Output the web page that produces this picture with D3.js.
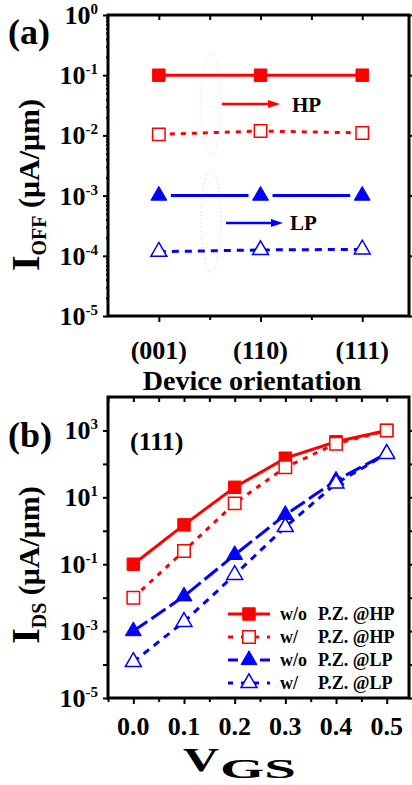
<!DOCTYPE html>
<html>
<head>
<meta charset="utf-8">
<script src="https://cdn.jsdelivr.net/npm/d3@7"></script>
<style>
body { margin: 0; background: #fff; }
text { font-family: "Liberation Serif", "Times New Roman", serif; font-weight: bold; fill: #000; }
</style>
</head>
<body>
<script>
// panel (a): off current vs orientation
var orientations = ['(001)', '(110)', '(111)'];
var ioffHpNoPz = [0.1, 0.1, 0.1];
var ioffHpPz = [0.0104, 0.0118, 0.011];
var ioffLpNoPz = [1e-3, 1e-3, 1e-3];
var ioffLpPz = [1.17e-4, 1.25e-4, 1.28e-4];

// panel (b): Ids vs Vgs for (111)
var vgs = [0.0, 0.1, 0.2, 0.3, 0.4, 0.5];
var idsHpNoPz = [0.1, 1.5, 20, 148, 460, 1000];
var idsHpPz = [0.01, 0.25, 6.6, 79, 400, 1000];
var idsLpNoPz = [1e-3, 0.011, 0.19, 3, 32, 205];
var idsLpPz = [1.2e-4, 0.0019, 0.048, 1.3, 26, 200];

var yTicksA = [1e0, 1e-1, 1e-2, 1e-3, 1e-4, 1e-5];
var yTicksB = [1e3, 1e1, 1e-1, 1e-3, 1e-5];
var vgsTicks = [0.0, 0.1, 0.2, 0.3, 0.4, 0.5];

var legendPrefix = ['w/o', 'w/', 'w/o', 'w/'];
var legendText = ['P.Z. @HP', 'P.Z. @HP', 'P.Z. @LP', 'P.Z. @LP'];

var red = '#ff0000', blue = '#0000ff';

// series styles (same order as legend)
var styles = [
	{color: red, dash: null, shape: 'square', open: false},
	{color: red, dash: '5,6', shape: 'square', open: true},
	{color: blue, dash: '17,5', shape: 'triangle', open: false},
	{color: blue, dash: '7,6', shape: 'triangle', open: true}
];

var svg = d3.select('body').append('svg')
	.attr('width', 412)
	.attr('height', 785);

var xa = d3.scaleLinear().domain([0.5, 3.46]).range([108, 409]);
var ya = d3.scaleLog().domain([1e-5, 1]).range([316, 15]);

var xb = d3.scaleLinear().domain([-0.05, 0.544]).range([108, 409]);
var yb = d3.scaleLog().domain([1e-5, 1e4]).range([698, 397]);

function symbolPath(shape) {
	if (shape == 'square') return d3.symbol().type(d3.symbolSquare).size(155)();
	return d3.symbol().type(d3.symbolTriangle).size(110)();
}

function drawFrame(x, y, xMajor, xMinor, yMajor, yMinor) {
	var g = svg.append('g');
	var x0 = x.range()[0], x1 = x.range()[1],
		y0 = y.range()[0], y1 = y.range()[1];

	function clean(sel) {
		sel.select('.domain').remove();
		sel.selectAll('line').attr('stroke-width', 2);
	}

	// bottom (out) and top (in)
	g.append('g').attr('transform', 'translate(0,' + y0 + ')')
		.call(d3.axisBottom(x).tickValues(xMajor).tickSize(6).tickFormat('')).call(clean);
	g.append('g').attr('transform', 'translate(0,' + y0 + ')')
		.call(d3.axisBottom(x).tickValues(xMinor).tickSize(4).tickFormat('')).call(clean);
	g.append('g').attr('transform', 'translate(0,' + y1 + ')')
		.call(d3.axisTop(x).tickValues(xMajor.concat(xMinor)).tickSize(-5).tickFormat('')).call(clean);

	// left and right (out)
	g.append('g').attr('transform', 'translate(' + x0 + ',0)')
		.call(d3.axisLeft(y).tickValues(yMajor).tickSize(5).tickFormat('')).call(clean);
	g.append('g').attr('transform', 'translate(' + x1 + ',0)')
		.call(d3.axisRight(y).tickValues(yMajor).tickSize(5).tickFormat('')).call(clean);
	if (yMinor.length) {
		g.append('g').attr('transform', 'translate(' + x0 + ',0)')
			.call(d3.axisLeft(y).tickValues(yMinor).tickSize(2).tickFormat('')).call(clean);
	}

	g.append('rect')
		.attr('x', x0).attr('y', y1)
		.attr('width', x1 - x0).attr('height', y0 - y1)
		.attr('fill', 'none').attr('stroke', '#000').attr('stroke-width', 3);
}

function powLabels(y, vals) {
	vals.forEach(function(v) {
		var e = Math.round(Math.log10(v));
		var t = svg.append('text')
			.attr('x', 98).attr('y', y(v) + 9)
			.attr('text-anchor', 'end')
			.style('font-size', '26px');
		t.append('tspan').text('10');
		t.append('tspan').attr('dy', -10).style('font-size', '15px').text(e);
	});
}

function drawSeries(x, y, xs, ys, st, gapped) {
	var pts = xs.map(function(d, i) { return [x(d), y(ys[i])]; });
	if (gapped) {
		// line broken around each marker
		for (var i = 0; i < pts.length - 1; i++) {
			var a = pts[i], b = pts[i + 1];
			var dx = b[0] - a[0], dy = b[1] - a[1], len = Math.sqrt(dx * dx + dy * dy), gap = 12;
			svg.append('line')
				.attr('x1', a[0] + dx * gap / len).attr('y1', a[1] + dy * gap / len)
				.attr('x2', b[0] - dx * gap / len).attr('y2', b[1] - dy * gap / len)
				.attr('stroke', st.color).attr('stroke-width', 3);
		}
	} else {
		svg.append('path')
			.attr('d', d3.line()(pts))
			.attr('fill', 'none')
			.attr('stroke', st.color)
			.attr('stroke-width', 3)
			.attr('stroke-dasharray', st.dash);
	}
	return pts;
}

function drawMarkers(pts, st) {
	svg.selectAll(null).data(pts).enter().append('path')
		.attr('transform', function(d) { return 'translate(' + d[0] + ',' + d[1] + ')'; })
		.attr('d', symbolPath(st.shape))
		.attr('fill', st.open ? '#fff' : st.color)
		.attr('stroke', st.color)
		.attr('stroke-width', st.open ? 1.5 : 1);
}

// ---------- panel (a)
drawFrame(xa, ya, [1, 2, 3], [1.5, 2.5], yTicksA,
	d3.range(-5, 0).reduce(function(acc, e) {
		return acc.concat(d3.range(2, 10).map(function(m) { return m * Math.pow(10, e); }));
	}, []));

// faint guide ellipses
svg.append('ellipse').attr('cx', 211).attr('cy', 104).attr('rx', 10).attr('ry', 51)
	.attr('fill', 'none').attr('stroke', '#f4a0a0').attr('stroke-width', 1.5)
	.attr('stroke-dasharray', '1,3').attr('opacity', 0.4);
svg.append('ellipse').attr('cx', 211).attr('cy', 221).attr('rx', 10).attr('ry', 51)
	.attr('fill', 'none').attr('stroke', '#a0a0f4').attr('stroke-width', 1.5)
	.attr('stroke-dasharray', '1,3').attr('opacity', 0.4);

var catX = [1, 2, 3];
var seriesA = [ioffHpNoPz, ioffHpPz, ioffLpNoPz, ioffLpPz];
var ptsA = seriesA.map(function(s, i) {
	return drawSeries(xa, ya, catX, s, styles[i], i == 2);
});
ptsA.forEach(function(p, i) { drawMarkers(p, styles[i]); });

// arrows
function arrow(x1, x2, yy, color) {
	svg.append('line').attr('x1', x1).attr('y1', yy).attr('x2', x2 - 10).attr('y2', yy)
		.attr('stroke', color).attr('stroke-width', 2.5);
	svg.append('path')
		.attr('d', 'M' + (x2 - 12) + ',' + (yy - 4) + 'L' + x2 + ',' + yy + 'L' + (x2 - 12) + ',' + (yy + 4) + 'Z')
		.attr('fill', color);
}
arrow(222, 280, 104, red);
svg.append('text').attr('x', 292).attr('y', 112).style('font-size', '21px').text('HP');
arrow(226, 283, 223, blue);
svg.append('text').attr('x', 290).attr('y', 230).style('font-size', '21px').text('LP');

powLabels(ya, yTicksA);

svg.selectAll('.catlab').data(orientations).enter().append('text')
	.attr('x', function(d, i) { return xa(i + 1); })
	.attr('y', 359)
	.attr('text-anchor', 'middle')
	.style('font-size', '26px')
	.text(function(d) { return d; });

svg.append('text').attr('x', 252).attr('y', 390).attr('text-anchor', 'middle')
	.style('font-size', '28px').text('Device orientation');

svg.append('text').attr('x', 8).attr('y', 44).style('font-size', '36px').text('(a)');

var ta = svg.append('text')
	.attr('transform', 'translate(39,185) rotate(-90)')
	.attr('text-anchor', 'middle')
	.style('font-size', '30px');
ta.append('tspan').style('font-size', '40px').text('I');
ta.append('tspan').attr('dy', 7).style('font-size', '20px').text('OFF');
ta.append('tspan').attr('dy', -7).text(' (\u03bcA/\u03bcm)');

// ---------- panel (b)
drawFrame(xb, yb, vgsTicks, [-0.05, 0.05, 0.15, 0.25, 0.35, 0.45],
	d3.range(-5, 4).map(function(e) { return Math.pow(10, e); }), []);

var seriesB = [idsHpNoPz, idsHpPz, idsLpNoPz, idsLpPz];
var ptsB = seriesB.map(function(s, i) {
	return drawSeries(xb, yb, vgs, s, styles[i], false);
});
ptsB.forEach(function(p, i) { drawMarkers(p, styles[i]); });

powLabels(yb, yTicksB);

svg.selectAll('.vlab').data(vgsTicks).enter().append('text')
	.attr('x', function(d) { return xb(d); })
	.attr('y', 735)
	.attr('text-anchor', 'middle')
	.style('font-size', '26px')
	.text(function(d) { return d3.format('.1f')(d); });

// V_GS title (stretched, as in the original figure)
svg.append('text').attr('x', 183).attr('y', 771)
	.attr('textLength', 36).attr('lengthAdjust', 'spacingAndGlyphs')
	.style('font-size', '33px').text('V');
svg.append('text').attr('x', 220).attr('y', 778)
	.attr('textLength', 76).attr('lengthAdjust', 'spacingAndGlyphs')
	.style('font-size', '28px').text('GS');

svg.append('text').attr('x', 8).attr('y', 447).style('font-size', '36px').text('(b)');
svg.append('text').attr('x', 130).attr('y', 450).style('font-size', '26px').text('(111)');

var tb = svg.append('text')
	.attr('transform', 'translate(39,565) rotate(-90)')
	.attr('text-anchor', 'middle')
	.style('font-size', '30px');
tb.append('tspan').style('font-size', '40px').text('I');
tb.append('tspan').attr('dy', 7).style('font-size', '20px').text('DS');
tb.append('tspan').attr('dy', -7).text(' (\u03bcA/\u03bcm)');

// legend
var legY = d3.scaleLinear().domain([0, 3]).range([614, 683]);
styles.forEach(function(st, i) {
	var yy = legY(i);
	svg.append('line').attr('x1', 228).attr('x2', 270).attr('y1', yy).attr('y2', yy)
		.attr('stroke', st.color).attr('stroke-width', 3)
		.attr('stroke-dasharray', st.dash ? (i == 2 ? '10,22' : '5,8') : null);
	drawMarkers([[249, yy]], st);
	svg.append('text').attr('x', 280).attr('y', yy + 6).style('font-size', '18px').text(legendPrefix[i]);
	svg.append('text').attr('x', 318).attr('y', yy + 6).style('font-size', '18px').text(legendText[i]);
});
</script>
</body>
</html>
